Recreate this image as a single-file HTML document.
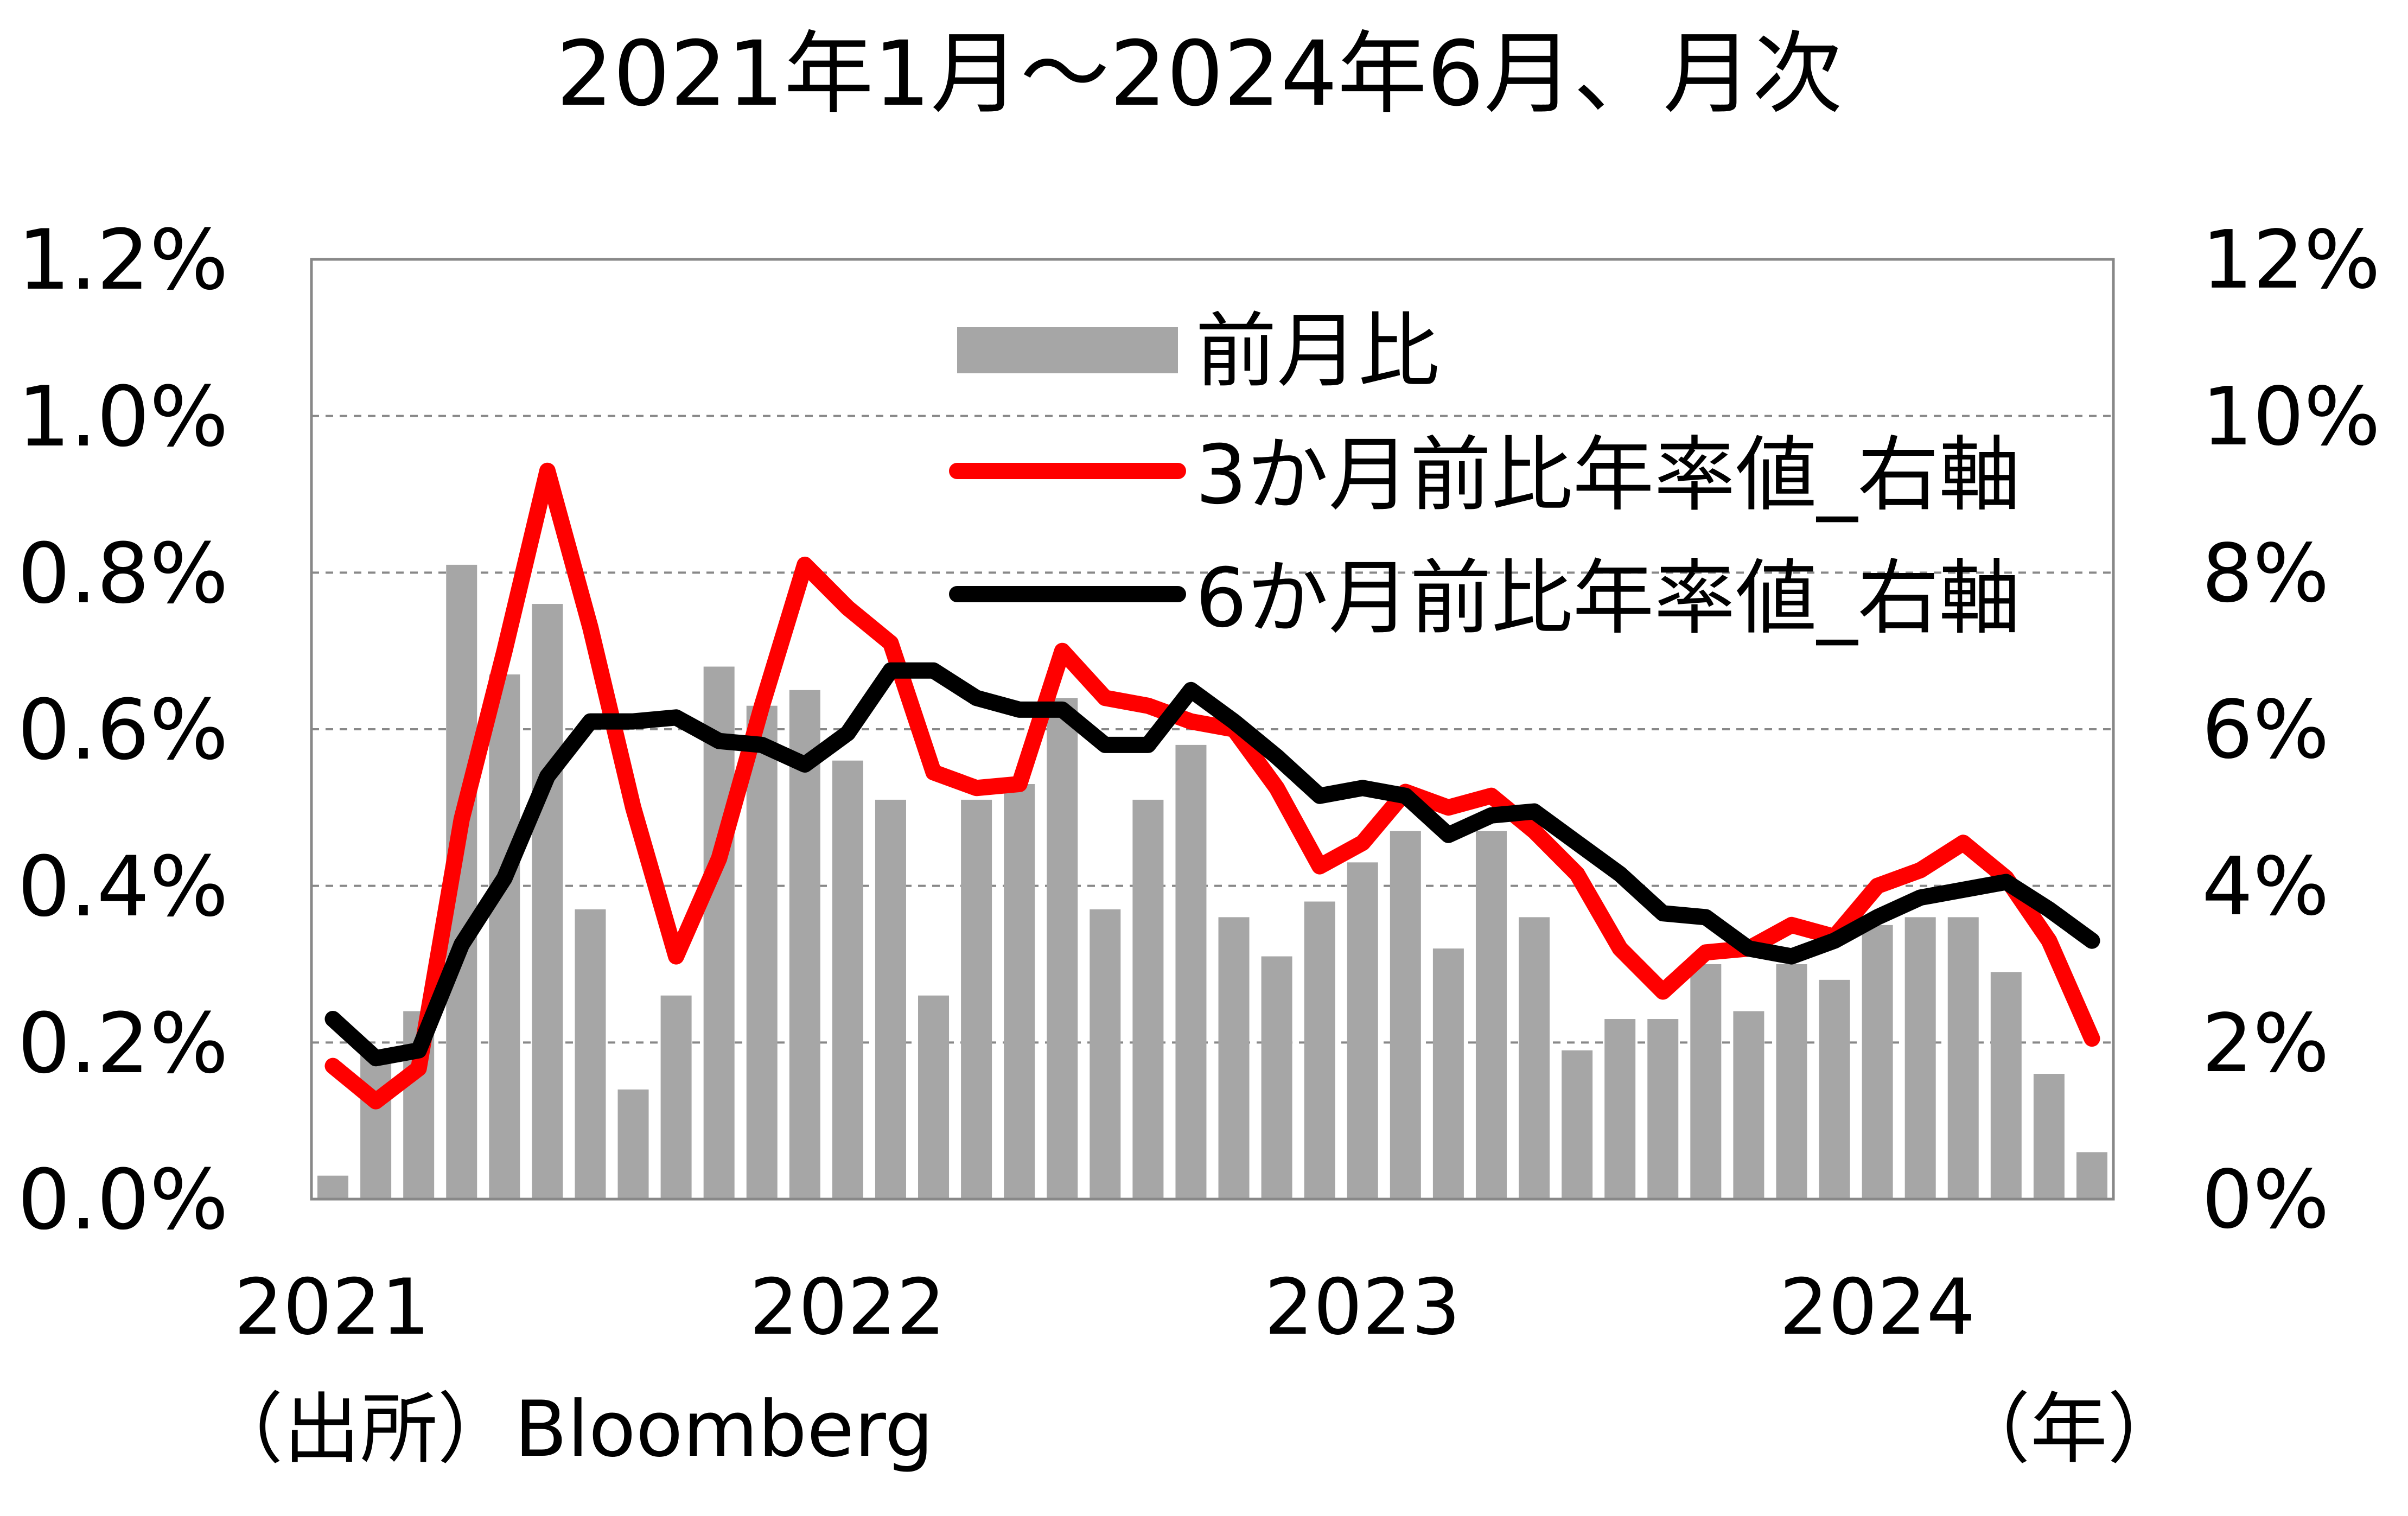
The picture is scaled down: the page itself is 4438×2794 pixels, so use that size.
<!DOCTYPE html>
<html><head><meta charset="utf-8"><style>
html,body{margin:0;padding:0;background:#fff;}
svg{display:block;}
text{font-family:"DejaVu Sans","Noto Sans CJK JP",sans-serif;fill:#000;}
</style></head><body>
<svg id="c" width="4438" height="2794" viewBox="0 0 4438 2794" xmlns="http://www.w3.org/2000/svg">
<rect width="4438" height="2794" fill="#fff"/>
<text x="2210" y="193" font-size="165" text-anchor="middle">2021年1月～2024年6月、月次</text>
<g id="grid"></g>
<g id="bars"></g>
<rect x="574" y="478" width="3321" height="1732" fill="none" stroke="#888" stroke-width="5"/>
<g id="lines"></g>
<g font-size="153">
<text x="421" y="532" text-anchor="end">1.2%</text>
<text x="421" y="821" text-anchor="end">1.0%</text>
<text x="421" y="1110" text-anchor="end">0.8%</text>
<text x="421" y="1398" text-anchor="end">0.6%</text>
<text x="421" y="1687" text-anchor="end">0.4%</text>
<text x="421" y="1976" text-anchor="end">0.2%</text>
<text x="421" y="2264" text-anchor="end">0.0%</text>
</g>
<g font-size="148">
<text x="4058" y="530">12%</text>
<text x="4058" y="819">10%</text>
<text x="4058" y="1108">8%</text>
<text x="4058" y="1396">6%</text>
<text x="4058" y="1685">4%</text>
<text x="4058" y="1974">2%</text>
<text x="4058" y="2262">0%</text>
</g>
<g font-size="142">
<text x="612" y="2458" text-anchor="middle">2021</text>
<text x="1562" y="2458" text-anchor="middle">2022</text>
<text x="2511" y="2458" text-anchor="middle">2023</text>
<text x="3460" y="2458" text-anchor="middle">2024</text>
<text x="380" y="2683">（出所）Bloomberg</text>
<text x="3600" y="2683">（年）</text>
</g>
<rect x="1764" y="603" width="407" height="85" fill="#a6a6a6"/>
<line x1="1764" y1="868" x2="2171" y2="868" stroke="#ff0000" stroke-width="30" stroke-linecap="round"/>
<line x1="1764" y1="1095" x2="2171" y2="1095" stroke="#000" stroke-width="30" stroke-linecap="round"/>
<g font-size="150">
<text x="2203" y="699">前月比</text>
<text x="2203" y="927">3か月前比年率値_右軸</text>
<text x="2203" y="1154">6か月前比年率値_右軸</text>
</g>
</svg>
<script>
var NS="http://www.w3.org/2000/svg";
var L=574,R=3895,T=478,B=2210,n=42,w=(R-L)/n;
function y1(v){return B-(v/1.2)*(B-T);}
function y2(v){return B-(v/12)*(B-T);}
var g=document.getElementById("grid");
for(var i=1;i<6;i++){var y=B-i*(B-T)/6;var l=document.createElementNS(NS,"line");
l.setAttribute("x1",L);l.setAttribute("x2",R);l.setAttribute("y1",y);l.setAttribute("y2",y);
l.setAttribute("stroke","#888");l.setAttribute("stroke-width","4");l.setAttribute("stroke-dasharray","14 12");g.appendChild(l);}
var bars=[0.03,0.19,0.24,0.81,0.67,0.76,0.37,0.14,0.26,0.68,0.63,0.65,0.56,0.51,0.26,0.51,0.53,0.64,0.37,0.51,0.58,0.36,0.31,0.38,0.43,0.47,0.32,0.47,0.36,0.19,0.23,0.23,0.30,0.24,0.30,0.28,0.35,0.36,0.36,0.29,0.16,0.06];
var red=[1.7,1.25,1.67,4.85,7.0,9.3,7.3,5.0,3.1,4.35,6.3,8.1,7.55,7.1,5.45,5.25,5.3,7.0,6.4,6.3,6.1,6.0,5.25,4.25,4.55,5.2,5.0,5.15,4.7,4.15,3.2,2.65,3.15,3.2,3.5,3.35,4.0,4.2,4.55,4.1,3.3,2.05];
var blk=[2.3,1.8,1.9,3.25,4.1,5.4,6.1,6.1,6.15,5.85,5.8,5.55,5.95,6.75,6.75,6.4,6.25,6.25,5.8,5.8,6.5,6.1,5.65,5.15,5.25,5.15,4.65,4.9,4.95,4.55,4.15,3.65,3.6,3.2,3.1,3.3,3.6,3.85,3.95,4.05,3.7,3.3];
var bg=document.getElementById("bars");
bars.forEach(function(v,i){var r=document.createElementNS(NS,"rect");var cx=L+(i+0.5)*w;
r.setAttribute("x",cx-28.5);r.setAttribute("width",57);r.setAttribute("y",y1(v));r.setAttribute("height",B-y1(v));
r.setAttribute("fill","#a6a6a6");bg.appendChild(r);});
var lg=document.getElementById("lines");
[[red,"#ff0000"],[blk,"#000"]].forEach(function(s){var p=s[0].map(function(v,i){return (L+(i+0.5)*w).toFixed(1)+","+y2(v).toFixed(1);}).join(" ");
var pl=document.createElementNS(NS,"polyline");pl.setAttribute("points",p);pl.setAttribute("fill","none");
pl.setAttribute("stroke",s[1]);pl.setAttribute("stroke-width","30");pl.setAttribute("stroke-linejoin","round");pl.setAttribute("stroke-linecap","round");lg.appendChild(pl);});
</script>
</body></html>
